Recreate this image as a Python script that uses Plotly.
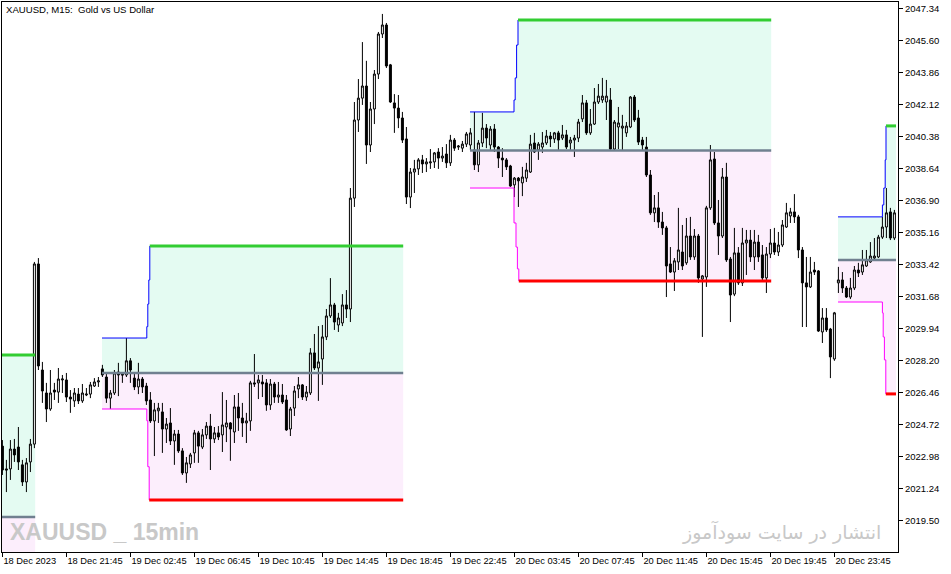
import plotly.graph_objects as go

# ---------------- data ----------------
label_bars = [0, 16, 32, 48, 64, 80, 96, 112, 128, 144, 160, 176, 192, 208]
time_labels = ["18 Dec 2023", "18 Dec 21:45", "19 Dec 02:45", "19 Dec 06:45",
               "19 Dec 10:45", "19 Dec 14:45", "19 Dec 18:45", "19 Dec 22:45",
               "20 Dec 03:45", "20 Dec 07:45", "20 Dec 11:45", "20 Dec 15:45",
               "20 Dec 19:45", "20 Dec 23:45"]
price_ticks = [2019.50, 2021.24, 2022.98, 2024.72, 2026.46, 2028.20, 2029.94,
               2031.68, 2033.42, 2035.16, 2036.90, 2038.64, 2040.38, 2042.12,
               2043.86, 2045.60, 2047.34]

open_ = [
    2023.53, 2022.29, 2022.29, 2023.37, 2023.48, 2022.51, 2021.58, 2022.67, 2023.64, 2033.44,
    2027.67, 2026.42, 2025.55, 2026.58, 2026.47, 2027.13, 2027.13, 2026.20, 2025.99, 2026.36,
    2025.99, 2026.31, 2026.36, 2026.80, 2027.02, 2027.73, 2027.29, 2026.14, 2026.42, 2027.56,
    2027.45, 2027.40, 2028.17, 2027.23, 2026.75, 2027.18, 2026.80, 2026.04, 2024.90, 2025.45,
    2025.39, 2024.46, 2024.79, 2023.81, 2024.19, 2023.27, 2022.07, 2022.56, 2023.16, 2024.25,
    2023.48, 2024.14, 2024.62, 2023.92, 2024.25, 2024.14, 2024.57, 2024.79, 2024.30, 2025.66,
    2025.06, 2024.79, 2024.90, 2026.97, 2026.97, 2027.02, 2026.97, 2025.77, 2026.91, 2026.20,
    2026.31, 2026.04, 2024.46, 2025.60, 2026.64, 2026.86, 2026.20, 2026.42, 2028.60, 2027.78,
    2028.27, 2029.47, 2030.61, 2031.21, 2030.12, 2030.23, 2031.21, 2030.99, 2037.02, 2041.27,
    2042.46, 2043.12, 2039.91, 2041.87, 2043.77, 2045.95, 2046.44, 2044.27, 2042.20, 2041.92,
    2041.38, 2040.24, 2037.08, 2038.44, 2038.61, 2039.10, 2038.88, 2038.94, 2038.99, 2039.53,
    2039.20, 2039.42, 2038.94, 2040.18, 2039.80, 2039.74, 2039.96, 2039.91, 2039.64, 2038.83,
    2040.02, 2040.83, 2039.91, 2040.78, 2039.80, 2039.20, 2039.10, 2038.77, 2037.74, 2038.11,
    2037.85, 2038.11, 2038.44, 2040.02, 2039.64, 2039.80, 2040.02, 2040.40, 2040.24, 2040.57,
    2040.29, 2040.46, 2040.02, 2040.18, 2040.29, 2041.33, 2042.20, 2040.57, 2041.05, 2042.25,
    2042.36, 2042.25, 2042.36, 2039.69, 2040.89, 2040.83, 2040.57, 2040.89, 2042.52, 2041.38,
    2040.18, 2039.80, 2038.28, 2036.22, 2036.49, 2035.72, 2035.40, 2033.44, 2033.00, 2033.55,
    2034.09, 2033.50, 2034.96, 2033.82, 2034.96, 2032.62, 2032.73, 2036.49, 2039.15, 2035.67,
    2034.96, 2038.17, 2033.71, 2031.80, 2034.04, 2032.41, 2034.58, 2034.74, 2033.82, 2034.63,
    2033.93, 2032.68, 2033.98, 2034.58, 2034.09, 2034.47, 2035.45, 2036.05, 2036.27, 2036.00,
    2034.20, 2032.41, 2032.19, 2033.11, 2033.06, 2029.74, 2030.50, 2029.90, 2028.27, 2032.41,
    2032.57, 2032.13, 2031.64, 2032.13, 2033.11, 2033.00, 2033.33, 2033.55, 2033.76, 2033.82,
    2034.90, 2035.45, 2036.27, 2034.85]
high = [
    2023.86, 2022.78, 2023.86, 2023.92, 2024.57, 2022.78, 2022.88, 2023.92, 2033.55, 2033.76,
    2028.11, 2026.97, 2027.67, 2026.97, 2027.78, 2027.40, 2027.51, 2026.58, 2026.69, 2026.69,
    2026.91, 2026.69, 2027.02, 2027.23, 2027.29, 2027.95, 2027.51, 2026.58, 2027.67, 2028.06,
    2027.56, 2029.41, 2028.32, 2027.51, 2028.06, 2027.29, 2026.97, 2026.47, 2025.88, 2025.88,
    2025.88, 2025.06, 2025.60, 2024.41, 2024.41, 2023.42, 2022.94, 2023.16, 2024.41, 2024.36,
    2024.46, 2024.84, 2025.28, 2024.57, 2024.62, 2026.47, 2026.04, 2024.84, 2026.31, 2026.42,
    2025.88, 2025.34, 2027.08, 2028.54, 2027.40, 2027.40, 2027.18, 2027.18, 2027.02, 2027.02,
    2026.91, 2026.31, 2025.66, 2026.80, 2027.29, 2026.91, 2026.80, 2028.86, 2029.63, 2030.06,
    2030.12, 2030.99, 2032.67, 2031.32, 2030.78, 2031.80, 2032.02, 2037.57, 2042.25, 2043.50,
    2045.51, 2044.49, 2042.25, 2043.99, 2046.06, 2047.04, 2046.55, 2044.32, 2042.68, 2042.63,
    2041.71, 2040.89, 2038.66, 2039.10, 2039.20, 2039.37, 2039.20, 2039.69, 2039.53, 2039.74,
    2039.80, 2039.96, 2040.46, 2040.29, 2039.91, 2040.13, 2040.62, 2040.83, 2041.71, 2040.18,
    2041.66, 2041.05, 2040.94, 2041.05, 2039.85, 2039.74, 2039.20, 2038.83, 2038.17, 2038.17,
    2038.72, 2038.94, 2040.46, 2040.57, 2040.07, 2040.62, 2040.73, 2040.62, 2040.62, 2040.68,
    2041.00, 2040.73, 2040.35, 2040.46, 2041.33, 2042.63, 2042.36, 2041.87, 2043.01, 2043.23,
    2043.56, 2043.45, 2043.01, 2041.27, 2041.98, 2041.55, 2041.16, 2042.57, 2042.63, 2041.82,
    2040.35, 2040.35, 2038.55, 2037.19, 2037.35, 2036.27, 2035.51, 2034.36, 2033.76, 2036.49,
    2035.56, 2035.94, 2036.00, 2035.34, 2035.07, 2032.84, 2036.60, 2039.91, 2039.53, 2036.92,
    2038.66, 2038.94, 2033.82, 2035.40, 2034.36, 2035.40, 2035.29, 2035.29, 2035.29, 2035.02,
    2034.47, 2034.36, 2035.34, 2035.40, 2035.18, 2035.83, 2036.76, 2036.49, 2037.24, 2036.11,
    2034.36, 2033.82, 2033.82, 2033.55, 2033.11, 2031.04, 2031.04, 2029.96, 2030.83, 2033.28,
    2033.00, 2032.24, 2032.68, 2033.33, 2033.50, 2034.20, 2034.20, 2034.63, 2034.85, 2035.02,
    2036.00, 2037.57, 2036.49, 2036.38]
low = [
    2021.96, 2021.03, 2021.69, 2022.67, 2022.23, 2021.36, 2021.03, 2022.12, 2023.42, 2027.67,
    2025.88, 2024.84, 2025.45, 2026.04, 2025.88, 2026.42, 2025.93, 2025.34, 2025.66, 2025.82,
    2025.88, 2026.25, 2026.14, 2026.75, 2026.75, 2027.29, 2025.88, 2025.55, 2026.31, 2026.25,
    2026.97, 2027.29, 2026.97, 2026.58, 2026.36, 2026.42, 2025.77, 2024.79, 2022.99, 2024.79,
    2023.16, 2023.70, 2023.59, 2022.51, 2023.16, 2021.96, 2021.53, 2022.34, 2022.62, 2022.62,
    2023.37, 2023.92, 2022.23, 2023.70, 2023.86, 2023.21, 2023.75, 2022.73, 2023.70, 2024.36,
    2024.03, 2023.70, 2024.36, 2026.75, 2026.09, 2026.20, 2025.45, 2025.50, 2025.88, 2025.88,
    2025.82, 2024.36, 2024.08, 2025.17, 2026.14, 2026.04, 2025.99, 2026.31, 2027.67, 2025.99,
    2026.86, 2029.30, 2030.50, 2029.85, 2029.74, 2030.06, 2030.50, 2030.28, 2036.54, 2040.62,
    2042.09, 2038.88, 2039.53, 2041.05, 2043.50, 2045.73, 2044.10, 2042.20, 2040.57, 2040.83,
    2040.02, 2036.70, 2036.48, 2037.30, 2038.28, 2038.39, 2038.44, 2038.61, 2038.66, 2038.61,
    2038.99, 2038.66, 2038.77, 2039.59, 2039.64, 2039.53, 2039.80, 2039.64, 2038.55, 2038.44,
    2039.80, 2039.74, 2039.64, 2039.53, 2038.66, 2038.17, 2038.55, 2037.63, 2037.08, 2036.54,
    2037.13, 2037.90, 2038.39, 2039.48, 2039.10, 2039.48, 2039.91, 2039.80, 2040.02, 2039.64,
    2040.18, 2039.69, 2039.64, 2039.26, 2040.07, 2041.16, 2040.46, 2040.46, 2041.00, 2042.14,
    2042.20, 2041.27, 2039.64, 2039.64, 2039.69, 2039.64, 2040.35, 2040.83, 2041.16, 2039.91,
    2039.64, 2038.17, 2036.11, 2035.72, 2035.40, 2035.02, 2031.64, 2032.95, 2031.97, 2033.11,
    2033.11, 2033.39, 2033.66, 2033.66, 2032.41, 2029.47, 2032.19, 2036.38, 2035.56, 2033.93,
    2034.85, 2033.55, 2030.28, 2031.69, 2032.30, 2032.24, 2032.84, 2033.55, 2033.11, 2033.55,
    2032.57, 2031.86, 2033.76, 2033.93, 2033.87, 2034.36, 2035.40, 2035.67, 2035.67, 2033.76,
    2030.01, 2030.01, 2032.13, 2032.84, 2029.74, 2029.14, 2029.74, 2027.23, 2028.17, 2031.86,
    2031.86, 2031.59, 2031.53, 2032.02, 2032.73, 2032.84, 2033.28, 2033.50, 2033.66, 2033.76,
    2034.80, 2034.85, 2034.74, 2034.74]
close = [
    2022.23, 2022.23, 2023.37, 2023.05, 2022.67, 2021.58, 2022.62, 2023.64, 2033.44, 2027.89,
    2026.53, 2025.55, 2026.42, 2026.47, 2027.18, 2027.18, 2026.20, 2026.09, 2026.42, 2025.99,
    2026.42, 2026.36, 2026.86, 2027.02, 2027.08, 2027.40, 2026.14, 2026.42, 2027.51, 2027.40,
    2027.40, 2028.17, 2027.67, 2026.75, 2027.18, 2026.75, 2025.99, 2024.90, 2025.50, 2025.60,
    2024.46, 2024.73, 2023.81, 2024.19, 2023.27, 2022.07, 2022.62, 2023.05, 2024.25, 2023.53,
    2024.14, 2024.62, 2023.92, 2024.25, 2024.03, 2024.68, 2024.79, 2024.46, 2025.66, 2025.06,
    2024.79, 2024.90, 2026.97, 2026.91, 2027.13, 2026.91, 2025.77, 2026.91, 2026.20, 2026.31,
    2025.93, 2024.41, 2025.55, 2026.53, 2026.86, 2026.20, 2026.47, 2028.60, 2027.78, 2028.11,
    2029.47, 2030.61, 2031.21, 2030.28, 2030.50, 2031.21, 2030.99, 2037.02, 2041.27, 2042.46,
    2043.12, 2039.91, 2041.87, 2043.77, 2045.95, 2046.44, 2044.21, 2042.25, 2041.92, 2041.38,
    2040.18, 2037.08, 2038.44, 2038.61, 2039.10, 2038.88, 2038.99, 2038.99, 2039.48, 2039.20,
    2039.31, 2038.94, 2040.18, 2039.74, 2039.85, 2039.96, 2040.51, 2040.57, 2038.83, 2040.02,
    2040.83, 2040.29, 2040.78, 2039.80, 2039.20, 2039.10, 2038.72, 2037.68, 2038.11, 2037.96,
    2038.17, 2038.55, 2039.96, 2039.53, 2039.96, 2040.02, 2040.40, 2040.24, 2040.57, 2040.18,
    2040.46, 2039.80, 2040.18, 2040.29, 2041.16, 2042.20, 2040.57, 2041.05, 2042.25, 2042.57,
    2042.57, 2042.57, 2039.69, 2041.16, 2041.11, 2040.94, 2040.94, 2042.52, 2041.27, 2040.07,
    2039.91, 2038.28, 2036.22, 2036.49, 2035.72, 2035.40, 2033.33, 2033.00, 2033.61, 2034.20,
    2033.33, 2034.96, 2033.82, 2034.96, 2032.68, 2032.79, 2036.49, 2039.10, 2035.67, 2034.96,
    2038.17, 2033.66, 2031.75, 2034.04, 2032.41, 2034.58, 2034.74, 2033.82, 2034.63, 2033.82,
    2032.68, 2033.98, 2034.58, 2034.09, 2034.47, 2035.56, 2036.22, 2036.27, 2036.00, 2034.20,
    2032.41, 2032.19, 2033.00, 2033.00, 2029.79, 2030.50, 2029.85, 2028.38, 2030.78, 2032.57,
    2032.13, 2031.64, 2032.13, 2033.11, 2032.95, 2033.39, 2033.66, 2033.87, 2033.87, 2034.90,
    2035.45, 2036.22, 2034.85, 2036.22]

# session range boxes (times in bar units)
sess_start = [-1.0, 24.9, 116.9, 208.9]
sess_end = [8.2, 100.2, 192.2, 223.4]
sess_mid = [2019.68, 2027.51, 2039.61, 2033.66]
hi_step_bars = [[], [36.1, 36.35, 36.6, 36.85], [127.9, 128.2, 128.55, 128.9],
                [220.0, 220.35, 220.7, 220.9]]
hi_step_vals = [[2028.49], [2029.41, 2030.03, 2031.26, 2032.57, 2034.42],
                [2041.71, 2042.36, 2043.56, 2045.35, 2046.71],
                [2036.00, 2036.65, 2037.57, 2039.10, 2040.95]]
lo_step_bars = [[], [36.1, 36.35, 36.7], [127.9, 128.4, 128.75, 129.1],
                [220.0, 220.2, 220.5, 220.85]]
lo_step_vals = [[2010.87], [2025.55, 2024.91, 2022.41, 2020.60],
                [2037.57, 2035.67, 2034.36, 2033.17, 2032.51],
                [2031.37, 2030.78, 2029.47, 2028.22, 2026.37]]

# ---------------- figure ----------------
MINT = "#E4FBF2"
PINK = "#FCEEFC"
bars = list(range(len(open_)))

fig = go.Figure()


def region_path(start, end, mid, steps, vals):
    pts = [(start, mid), (start, vals[0])]
    for j, sx in enumerate(steps):
        pts.append((sx, vals[j]))
        pts.append((sx, vals[j + 1]))
    pts.append((end, vals[-1]))
    pts.append((end, mid))
    return "M " + " L ".join(f"{px},{py}" for px, py in pts) + " Z"


shapes = []
for k in range(len(sess_start)):
    shapes.append(dict(type="path", xref="x", yref="y", layer="below",
                       path=region_path(sess_start[k], sess_end[k], sess_mid[k],
                                        hi_step_bars[k], hi_step_vals[k]),
                       fillcolor=MINT, line=dict(width=0)))
    shapes.append(dict(type="path", xref="x", yref="y", layer="below",
                       path=region_path(sess_start[k], sess_end[k], sess_mid[k],
                                        lo_step_bars[k], lo_step_vals[k]),
                       fillcolor=PINK, line=dict(width=0)))

fig.add_trace(go.Candlestick(
    x=bars, open=open_, high=high, low=low, close=close,
    increasing=dict(line=dict(color="black", width=1), fillcolor="white"),
    decreasing=dict(line=dict(color="black", width=1), fillcolor="black"),
    whiskerwidth=0, showlegend=False, hoverinfo="skip"))

for k in range(len(sess_start)):
    hx = [sess_start[k]] + hi_step_bars[k]
    lx = [sess_start[k]] + lo_step_bars[k]
    if len(hx) > 1:
        fig.add_trace(go.Scatter(x=hx, y=hi_step_vals[k], mode="lines",
                                 line=dict(color="#0000FF", width=1, shape="hv"),
                                 showlegend=False, hoverinfo="skip"))
        fig.add_trace(go.Scatter(x=lx, y=lo_step_vals[k], mode="lines",
                                 line=dict(color="#FF00FF", width=1, shape="hv"),
                                 showlegend=False, hoverinfo="skip"))
    fig.add_trace(go.Scatter(x=[sess_start[k], sess_end[k]], y=[sess_mid[k]] * 2,
                             mode="lines", line=dict(color="#708090", width=2.5),
                             showlegend=False, hoverinfo="skip"))
    fig.add_trace(go.Scatter(x=[hx[-1], sess_end[k]], y=[hi_step_vals[k][-1]] * 2,
                             mode="lines", line=dict(color="#32CD32", width=3),
                             showlegend=False, hoverinfo="skip"))
    fig.add_trace(go.Scatter(x=[lx[-1], sess_end[k]], y=[lo_step_vals[k][-1]] * 2,
                             mode="lines", line=dict(color="#FF0000", width=3),
                             showlegend=False, hoverinfo="skip"))

annotations = [
    dict(text="XAUUSD, M15:\u00a0 Gold vs US Dollar", xref="paper", yref="paper",
         x=0.0022, y=0.987, xanchor="left", yanchor="middle", showarrow=False,
         font=dict(family="Liberation Sans, Arial, sans-serif", size=9.6, color="black")),
    dict(text="<b>XAUUSD _ 15min</b>", xref="paper", yref="paper",
         x=0.0067, y=0.036, xanchor="left", yanchor="middle", showarrow=False,
         font=dict(family="Liberation Sans, Arial, sans-serif",
                   size=23, color="#C8C8C8")),
    dict(text="انتشار در سایت سودآموز", xref="paper", yref="paper",
         x=0.9833, y=0.037, xanchor="right", yanchor="middle", showarrow=False,
         font=dict(family="DejaVu Sans, sans-serif", size=19, color="#C8C8C8")),
]

fig.update_layout(
    width=951, height=574, autosize=False,
    margin=dict(l=2, r=53, t=2, b=22, pad=0),
    paper_bgcolor="white", plot_bgcolor="white",
    shapes=shapes, annotations=annotations, showlegend=False,
    font=dict(family="Liberation Sans, Arial, sans-serif", size=10, color="black"),
    xaxis=dict(range=[-0.1, 223.9], rangeslider=dict(visible=False),
               tickmode="array", tickvals=label_bars, ticktext=time_labels,
               ticks="outside", ticklen=4, tickcolor="black", tickangle=0,
               ticklabelposition="outside right", automargin=False,
               tickfont=dict(size=9.3), showgrid=False, zeroline=False,
               showline=True, linecolor="black", linewidth=1, mirror=True),
    yaxis=dict(range=[2017.77, 2047.69], side="right",
               tickmode="array", tickvals=price_ticks, automargin=False,
               ticktext=[f"{v:.2f}" for v in price_ticks],
               ticks="outside", ticklen=4, tickcolor="black",
               tickfont=dict(size=9.5), showgrid=False, zeroline=False,
               showline=True, linecolor="black", linewidth=1, mirror=True),
)

fig.write_html("out.html", config={"displayModeBar": False},
               post_script="document.body.style.margin='0px';")
